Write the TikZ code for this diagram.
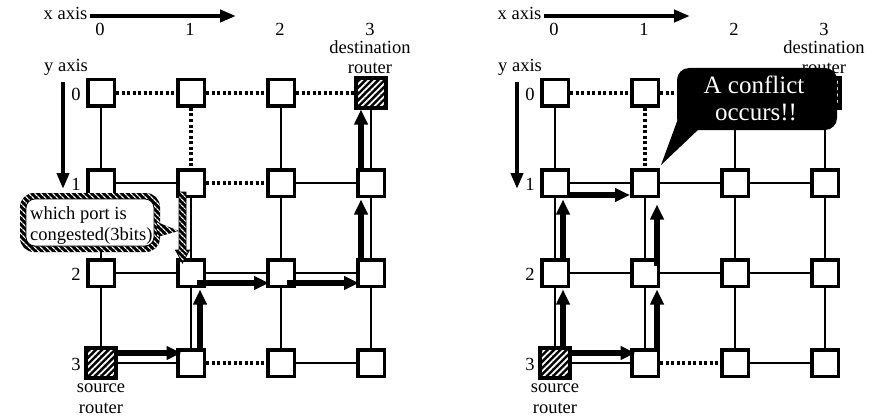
\documentclass[tikz,border=0pt]{standalone}
\usepackage{fontspec}
\setmainfont{Liberation Serif}
\usetikzlibrary{arrows.meta,patterns.meta}
\begin{document}
\begin{tikzpicture}[x=1pt,y=-1pt,
  every node/.style={font=\fontsize{18.5}{21}\selectfont, inner sep=0pt},
  rt/.style={draw, line width=3.5pt, fill=white, minimum size=26.5pt},
  hatchfill/.style={preaction={fill=black}, pattern={Lines[angle=45,distance=4.5pt,line width=1.8pt]}, pattern color=white},
  nwhatch/.style={preaction={fill=black}, pattern={Lines[angle=-45,distance=4pt,line width=1.3pt]}, pattern color=white},
  link/.style={line width=2.5pt},
  dotlink/.style={line width=3.2pt, dash pattern=on 3pt off 2.5pt},
  flow/.style={line width=5.5pt, -{Triangle[length=15pt,width=13pt]}},
  axisarrow/.style={line width=4.5pt, -{Triangle[length=16pt,width=12pt]}},
  lbl/.style={anchor=base}
]
\useasboundingbox (0,0) rectangle (877,417);

\foreach \P/\ox in {L/0,R/454}{
  % routers
  \foreach \c in {0,1,2,3}{
    \foreach \r in {0,1,2,3}{
      \node[rt] (\P\c\r) at ({\ox+101+90*\c},{93+90*\r}) {};
    }
    \node[lbl] (\P col\c) at ({\ox+100+90*\c},35.5) {\c};
    \node[lbl] (\P row\c) at ({\ox+76},{100+90*\c}) {\c};
  }
  \path[hatchfill] (\P30.south west) rectangle (\P30.north east);
  \draw[line width=3.5pt] (\P30.south west) rectangle (\P30.north east);
  \path[hatchfill] (\P03.south west) rectangle (\P03.north east);
  \draw[line width=3.5pt] (\P03.south west) rectangle (\P03.north east);
  % labels
  \node[lbl] (\P xl) at ({\ox+65.5},20) {x axis};
  \coordinate (\P xa) at ({\ox+90},16);
  \coordinate (\P xb) at ({\ox+236},16);
  \draw[axisarrow] (\P xa) -- (\P xb);
  \node[lbl] (\P dest) at ({\ox+370},53.5) {destination};
  \node[lbl] (\P drt) at ({\ox+370},74) {router};
  \node[lbl] (\P yl) at ({\ox+66},72) {y axis};
  \coordinate (\P ya) at ({\ox+63},82);
  \coordinate (\P yb) at ({\ox+63},189);
  \draw[axisarrow] (\P ya) -- (\P yb);
  \node[lbl] (\P src) at ({\ox+101},392) {source};
  \node[lbl] (\P srt) at ({\ox+101},413) {router};
  % links row 0
  \draw[dotlink] (\P00) -- (\P10);
  \draw[dotlink] (\P10) -- (\P20);
  \draw[dotlink] (\P20) -- (\P30);
  % rows 0-1
  \draw[link] (\P00) -- (\P01);
  \draw[dotlink] (\P10) -- (\P11);
  \draw[link] (\P20) -- (\P21);
  \draw[link] (\P30) -- (\P31);
  % row 1
  \draw[link] (\P01) -- (\P11);
  \draw[link] (\P21) -- (\P31);
  % rows 1-2
  \draw[link] (\P01) -- (\P02);
  \draw[link] (\P11) -- (\P12);
  \draw[link] (\P21) -- (\P22);
  \draw[link] (\P31) -- (\P32);
  % row 2
  \draw[link] (\P02) -- (\P12);
  \draw[link] (\P12) -- (\P22);
  \draw[link] (\P22) -- (\P32);
  % rows 2-3
  \draw[link] (\P02) -- (\P03);
  \draw[link] (\P12) -- (\P13);
  \draw[link] (\P22) -- (\P23);
  \draw[link] (\P32) -- (\P33);
  % row 3
  \draw[link] (\P03) -- (\P13);
  \draw[dotlink] (\P13) -- (\P23);
  \draw[link] (\P23) -- (\P33);
  % first hop
  \draw[flow] ([yshift=10pt]\P03.east) -- ([xshift=5.5pt,yshift=10pt]\P13.west);
}

% panel specific links
\draw[dotlink] (L11) -- (L21);
\draw[link] (R11) -- (R21);

% left flows
\draw[flow] ([xshift=9pt,yshift=-3pt]L13.north) -- ([xshift=9pt,yshift=-1.5pt]L12.south);
\draw[flow] ([xshift=6pt,yshift=-10pt]L12.center) -- ([xshift=3pt,yshift=-10pt]L22.west);
\draw[flow] ([xshift=6pt,yshift=-10pt]L22.center) -- ([xshift=3pt,yshift=-10pt]L32.west);
\draw[flow] ([xshift=-10pt,yshift=-3pt]L32.north) -- ([xshift=-10pt,yshift=-1.5pt]L31.south);
\draw[flow] ([xshift=-10pt]L31.north) -- ([xshift=-10pt,yshift=-1.5pt]L30.south);

% right flows
\draw[flow] ([xshift=8pt,yshift=-2pt]R03.north) -- ([xshift=8pt,yshift=-1.5pt]R02.south);
\draw[flow] ([xshift=8pt]R02.north) -- ([xshift=8pt,yshift=-1.5pt]R01.south);
\draw[flow] ([yshift=-12pt]R01.east) -- ([yshift=-12pt]R11.west);
\draw[flow] ([xshift=12pt,yshift=-1pt]R13.north) -- ([xshift=12pt,yshift=-1.5pt]R12.south);
\draw[flow] ([xshift=12pt,yshift=-7.5pt]R12.north) -- ([xshift=12pt,yshift=-6.5pt]R11.south);

% left callout with hatched border
\path[nwhatch, rounded corners=14pt] (20,193) rectangle (160,252);
\filldraw[fill=white, draw=black, line width=0.8pt, rounded corners=9pt] (26,199) rectangle (154,246);
\path[nwhatch] (157,222) -- (179,231) -- (157,237) -- cycle;
\node[anchor=base west] (Lc1) at (30,219) {which port is};
\node[anchor=base west] (Lc2) at (30,240) {congested(3bits)};
% hatched congestion arrow
\path[nwhatch, draw=black, line width=0.8pt] (179,192) -- (186,192) -- (186,250) -- (189.5,250) -- (182.5,263) -- (175.5,250) -- (179,250) -- cycle;

% right callout
\fill[rounded corners=12pt] (677,68) rectangle (837,130);
\fill (679,116) -- (700,128) -- (661,165) -- cycle;
\node[lbl, text=white, font=\fontsize{25}{28}\selectfont] (Rc1) at (754,94) {A conflict};
\node[lbl, text=white, font=\fontsize{25}{28}\selectfont] (Rc2) at (756,121) {occurs!!};
\end{tikzpicture}
\end{document}
